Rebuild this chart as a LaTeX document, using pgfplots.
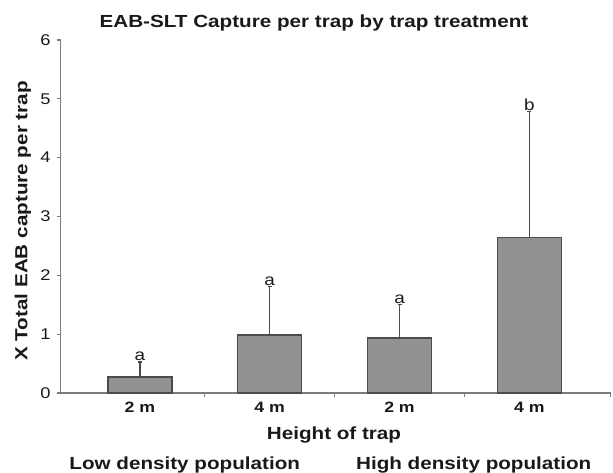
\documentclass[border=0pt]{standalone}
\usepackage{fontspec}
\setmainfont{Liberation Sans}[FakeStretch=1.18]
\usepackage{pgfplots}
\pgfplotsset{compat=1.18}
\definecolor{barfill}{RGB}{146,146,148}
\definecolor{baredge}{RGB}{75,75,75}
\definecolor{axgray}{RGB}{125,125,125}
\definecolor{txt}{RGB}{25,25,25}
\begin{document}
\begin{tikzpicture}
\begin{axis}[
  scale only axis,
  width=550pt, height=353pt,
  xmin=-0.61, xmax=3.627,
  ymin=0, ymax=6,
  axis lines=left,
  axis line style={-, draw=axgray, line width=1.6pt},
  xtick={0,1,2,3},
  xticklabels={2 m,4 m,2 m,4 m},
  xtick style={draw=none},
  extra x ticks={0.5,1.5,2.5,3.627},
  extra x tick labels={},
  extra x tick style={xtick style={draw=axgray, line width=1.2pt}, major tick length=4pt, tick align=outside},
  ytick={0,1,2,3,4,5,6},
  ytick style={draw=axgray, line width=1.2pt},
  major tick length=4pt,
  tick align=outside,
  /pgf/number format/assume math mode=true,
  yticklabel style={font=\fontsize{15.5}{17}\selectfont, text=txt, inner sep=0pt, xshift=-6pt},
  xticklabel style={font=\fontsize{15}{17}\selectfont\bfseries, text=txt, inner sep=0pt, anchor=north, yshift=-4.7pt},
  clip=false,
]
\addplot[ybar, bar width=64pt, bar shift=0pt, fill=barfill, draw=baredge, line width=1.6pt,
  error bars/.cd, y dir=plus, y explicit,
  error bar style={line width=1.4pt, draw=baredge},
  error mark options={rotate=90, mark size=2pt, line width=1.4pt, draw=baredge}]
  coordinates {
    (0,0.27) +- (0,0.26)
    (1,0.99) +- (0,0.82)
    (2,0.93) +- (0,0.57)
    (3,2.64) +- (0,2.14)
  };
\addplot[only marks, mark=none, nodes near coords, point meta=explicit symbolic,
  nodes near coords style={anchor=south, inner sep=1pt, text=txt, font=\fontsize{16}{18}\selectfont}]
  table[meta=lab] {
    x y lab
    0 0.53 a
    1 1.81 a
    2 1.50 a
    3 4.78 b
  };
\end{axis}
\begin{scope}[every node/.style={text=txt, font=\fontsize{17.5}{20}\selectfont\bfseries, inner sep=0pt}]
\node[anchor=base] at ([xshift=253.3pt,yshift=365.7pt]current axis.south west) {EAB-SLT Capture per trap by trap treatment};
\node[anchor=base] at ([xshift=273.3pt,yshift=-47pt]current axis.south west) {Height of trap};
\node[anchor=base] at ([xshift=124pt,yshift=-76.5pt]current axis.south west) {Low density population};
\node[anchor=base] at ([xshift=413pt,yshift=-77pt]current axis.south west) {High density population};
\node[anchor=base, rotate=90] at ([xshift=-33.4pt,yshift=172pt]current axis.south west) {X Total EAB capture per trap};
\end{scope}
\pgfresetboundingbox
\path[use as bounding box] ([xshift=-60.7pt,yshift=-80pt]current axis.south west) rectangle ++(613pt,473pt);
\end{tikzpicture}
\end{document}
